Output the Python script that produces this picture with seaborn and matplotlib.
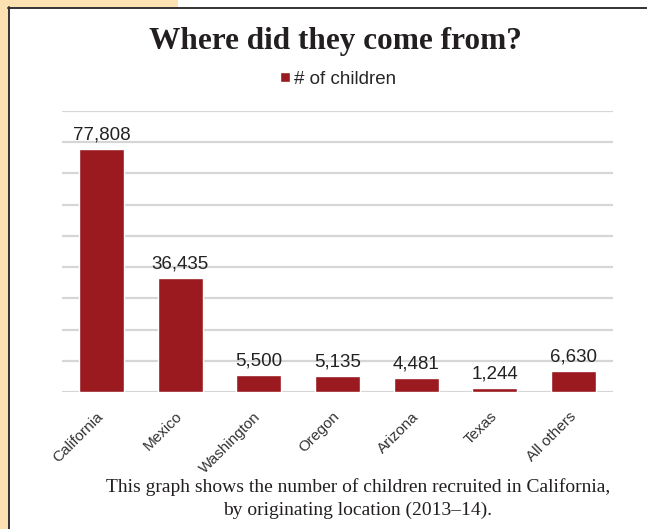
import numpy as np
import matplotlib
matplotlib.use("Agg")
import matplotlib.pyplot as plt
import seaborn as sns
from matplotlib.lines import Line2D
from matplotlib.patches import Rectangle

# data
locations = ["California", "Mexico", "Washington", "Oregon", "Arizona", "Texas", "All others"]
children = [77808, 36435, 5500, 5135, 4481, 1244, 6630]
series_name = "# of children"
y_ticks = list(range(0, 90001, 10000))

BAR_COLOR = "#9A1A1F"
GRID_COLOR = "#D6D6D6"
TAN = "#FCE1B3"

sns.set_theme(style="white")
plt.rcParams["font.family"] = ["Liberation Sans", "DejaVu Sans"]

W, H = 647, 529
fig = plt.figure(figsize=(W / 100, H / 100), dpi=100)
fig.patch.set_facecolor("white")

# tan page strip + black frame
fig.add_artist(Rectangle((0, 0), 8 / W, 1, transform=fig.transFigure,
                         facecolor=TAN, edgecolor="none", zorder=0))
fig.add_artist(Rectangle((0, 1 - 7 / H), 178 / W, 7 / H, transform=fig.transFigure,
                         facecolor=TAN, edgecolor="none", zorder=0))
fig.add_artist(Line2D([8.5 / W, 8.5 / W], [0, 1 - 7 / H], transform=fig.transFigure,
                      color="#333333", lw=1.4))
fig.add_artist(Line2D([8 / W, 1], [1 - 7.5 / H, 1 - 7.5 / H], transform=fig.transFigure,
                      color="#333333", lw=1.4))

ax = fig.add_axes([62 / W, 1 - 392 / H, 551 / W, 281 / H])
sns.barplot(x=locations, y=children, color=BAR_COLOR, saturation=1, width=0.57,
            label=series_name, ax=ax, zorder=3)

ax.set_ylim(0, 90000)
ax.set_xlim(-0.5, len(locations) - 0.5)
ax.set_yticks(y_ticks)
ax.set_yticklabels([])
ax.tick_params(axis="y", length=0)
ax.grid(axis="y", color=GRID_COLOR, lw=1.6, zorder=0)
ax.set_axisbelow(True)
for s in ax.spines.values():
    s.set_visible(False)
ax.set_xlabel("")
ax.set_ylabel("")

ax.bar_label(ax.containers[0], labels=[f"{v:,}" for v in children],
             padding=4, fontsize=13.5, color="#222222")

ax.tick_params(axis="x", length=0, pad=16)
plt.setp(ax.get_xticklabels(), rotation=45, ha="right", va="center",
         rotation_mode="anchor", fontsize=11, color="#333333")

leg = ax.legend(loc="center", bbox_to_anchor=(338 / W, 1 - 79 / H),
                bbox_transform=fig.transFigure, frameon=False, fontsize=13.5,
                handlelength=0.5, handleheight=0.5, handletextpad=0.2)

fig.text(335 / W, 1 - 41 / H, "Where did they come from?", ha="center", va="center",
         fontsize=22.5, fontweight="bold", family=["Liberation Serif", "DejaVu Serif"],
         color="#231F20")
fig.text(358 / W, 1 - 487 / H,
         "This graph shows the number of children recruited in California,",
         ha="center", va="center", fontsize=14,
         family=["Liberation Serif", "DejaVu Serif"], color="#231F20")
fig.text(358 / W, 1 - 510 / H, "by originating location (2013\u201314).",
         ha="center", va="center", fontsize=14,
         family=["Liberation Serif", "DejaVu Serif"], color="#231F20")

fig.savefig("out.png", dpi=100)
